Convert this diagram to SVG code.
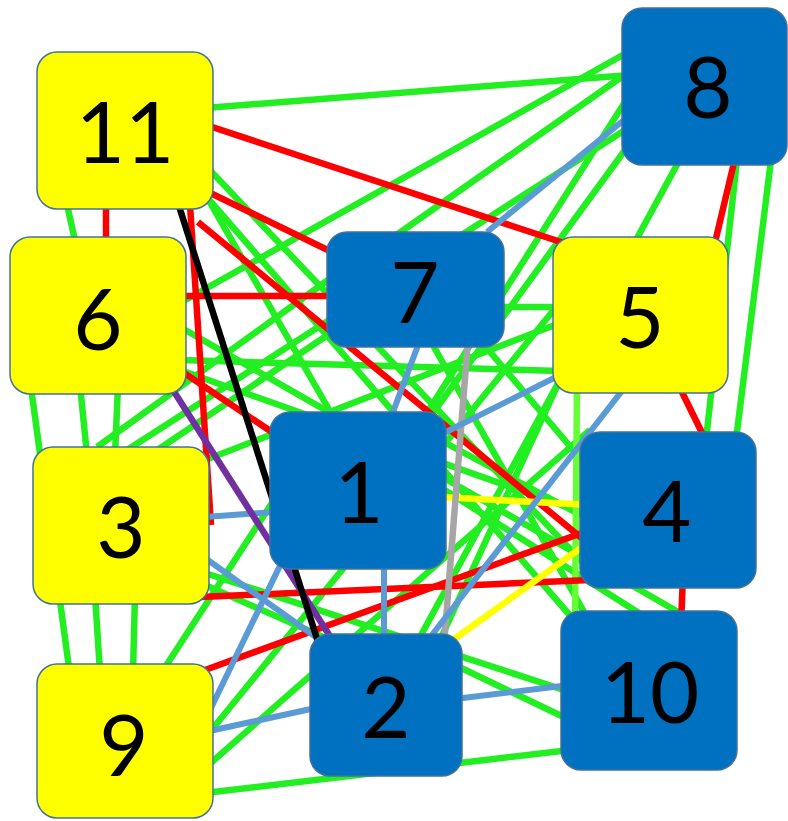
<svg xmlns="http://www.w3.org/2000/svg" width="788" height="821" viewBox="0 0 788 821">
<style>
.e{fill:none;stroke-width:6.5;stroke-linecap:butt}
.g{stroke:#22EE22}
.r{stroke:#FF0000}
.b{stroke:#5B9BD5;stroke-width:6}
.y{stroke:#FFFF00}
.k{stroke:#000000}
.p{stroke:#7030A0}
.s{stroke:#A6A6A6}
.lg{stroke:#66FF33}
.ny rect{fill:#FFFF00;stroke:#41719C;stroke-width:1.5}
.nb rect{fill:#0070C0;stroke:#41719C;stroke-width:1.5}
text{font-family:Lato,"Liberation Sans",sans-serif;font-size:85px;fill:#000;text-anchor:middle}
</style>
<rect width="788" height="821" fill="#FFFFFF"/>
<g id="connectors">
<line class="e g" x1="205" y1="108" x2="630" y2="75"/>
<line class="e g" x1="180" y1="303" x2="630" y2="51"/>
<line class="e g" x1="395" y1="236" x2="630" y2="71"/>
<line class="e g" x1="625" y1="102" x2="400" y2="455"/>
<line class="e g" x1="628" y1="146" x2="400" y2="458"/>
<line class="e g" x1="685" y1="150" x2="420" y2="637"/>
<line class="e g" x1="737" y1="160" x2="706" y2="440"/>
<line class="e g" x1="771" y1="160" x2="736" y2="440"/>
<line class="e g" x1="66" y1="200" x2="76" y2="245"/>
<line class="e g" x1="30" y1="380" x2="70" y2="675"/>
<line class="e g" x1="80" y1="385" x2="87" y2="455"/>
<line class="e g" x1="95" y1="595" x2="100" y2="672"/>
<line class="e g" x1="118" y1="385" x2="115" y2="455"/>
<line class="e g" x1="135" y1="595" x2="133" y2="672"/>
<line class="e g" x1="160" y1="675" x2="300" y2="460"/>
<line class="e g" x1="205" y1="573" x2="570" y2="692"/>
<line class="e g" x1="205" y1="738" x2="570" y2="290"/>
<line class="e g" x1="205" y1="768" x2="590" y2="430"/>
<line class="e g" x1="205" y1="793" x2="570" y2="750"/>
<line class="e g" x1="455" y1="665" x2="570" y2="720"/>
<line class="e g" x1="180" y1="327" x2="680" y2="613"/>
<line class="e g" x1="440" y1="487" x2="650" y2="620"/>
<line class="e g" x1="560" y1="307" x2="495" y2="307"/>
<line class="e g" x1="180" y1="360" x2="560" y2="371"/>
<line class="e g" x1="560" y1="323" x2="200" y2="462"/>
<line class="e g" x1="127" y1="450" x2="625" y2="130"/>
<line class="e g" x1="97" y1="447" x2="335" y2="275"/>
<line class="e g" x1="205" y1="165" x2="590" y2="570"/>
<line class="e g" x1="200" y1="185" x2="335" y2="420"/>
<line class="e g" x1="205" y1="195" x2="600" y2="650"/>
<line class="e g" x1="480" y1="340" x2="590" y2="470"/>
<line class="e g" x1="430" y1="340" x2="600" y2="640"/>
<line class="e g" x1="180" y1="370" x2="590" y2="515"/>
<line class="e g" x1="560" y1="380" x2="440" y2="640"/>
<line class="e g" x1="440" y1="440" x2="590" y2="520"/>
<line class="e g" x1="205" y1="585" x2="330" y2="640"/>
<line class="e g" x1="335" y1="330" x2="150" y2="455"/>
<line class="e lg" x1="577" y1="385" x2="575" y2="620"/>
<line class="e r" x1="200" y1="123" x2="570" y2="245"/>
<line class="e r" x1="200" y1="188" x2="340" y2="256"/>
<line class="e r" x1="198" y1="222" x2="590" y2="545"/>
<line class="e r" x1="106" y1="200" x2="106" y2="245"/>
<line class="e r" x1="190" y1="205" x2="211" y2="525"/>
<line class="e r" x1="98" y1="315" x2="358" y2="490"/>
<line class="e r" x1="150" y1="296" x2="360" y2="296"/>
<line class="e r" x1="737" y1="150" x2="712" y2="255"/>
<line class="e r" x1="676" y1="380" x2="708" y2="445"/>
<line class="e r" x1="683" y1="575" x2="681" y2="625"/>
<line class="e r" x1="205" y1="670" x2="590" y2="530"/>
<line class="e r" x1="200" y1="597" x2="590" y2="580"/>
<line class="e y" x1="440" y1="497" x2="590" y2="505"/>
<line class="e y" x1="450" y1="642" x2="585" y2="545"/>
<line class="e s" x1="468" y1="340" x2="444" y2="645"/>
<line class="e b" x1="487" y1="232" x2="630" y2="115"/>
<line class="e b" x1="420" y1="340" x2="390" y2="420"/>
<line class="e b" x1="440" y1="435" x2="560" y2="375"/>
<line class="e b" x1="625" y1="387" x2="428" y2="640"/>
<line class="e b" x1="384" y1="560" x2="384" y2="640"/>
<line class="e b" x1="205" y1="517" x2="275" y2="512"/>
<line class="e b" x1="205" y1="558" x2="320" y2="640"/>
<line class="e b" x1="210" y1="710" x2="290" y2="545"/>
<line class="e b" x1="205" y1="732" x2="320" y2="707"/>
<line class="e b" x1="455" y1="699" x2="570" y2="685"/>
<line class="e p" x1="173" y1="390" x2="333" y2="641"/>
<line class="e k" x1="178" y1="203" x2="319" y2="645"/>
</g>
<g id="node-11" class="ny"><rect x="37" y="52" width="176" height="157" rx="20"/><text x="125" y="163">11</text></g>
<g id="node-8" class="nb"><rect x="622" y="8" width="165" height="157" rx="20"/><text x="708" y="118">8</text></g>
<g id="node-6" class="ny"><rect x="10" y="237" width="176" height="157" rx="20"/><text x="98" y="350">6</text></g>
<g id="node-7" class="nb"><rect x="327" y="232" width="177" height="115" rx="20"/><text x="415" y="323">7</text></g>
<g id="node-5" class="ny"><rect x="553" y="237" width="175" height="156" rx="20"/><text x="640" y="348">5</text></g>
<g id="node-3" class="ny"><rect x="33" y="447" width="176" height="157" rx="20"/><text x="121" y="558">3</text></g>
<g id="node-1" class="nb"><rect x="270" y="412" width="176" height="157" rx="20"/><text x="359" y="523">1</text></g>
<g id="node-4" class="nb"><rect x="580" y="432" width="176" height="156" rx="20"/><text x="667" y="542">4</text></g>
<g id="node-9" class="ny"><rect x="37" y="664" width="176" height="154" rx="20"/><text x="124" y="776">9</text></g>
<g id="node-2" class="nb"><rect x="310" y="634" width="152" height="142" rx="20"/><text x="386" y="738">2</text></g>
<g id="node-10" class="nb"><rect x="561" y="611" width="176" height="159" rx="20"/><text x="650" y="723">10</text></g>
</svg>
